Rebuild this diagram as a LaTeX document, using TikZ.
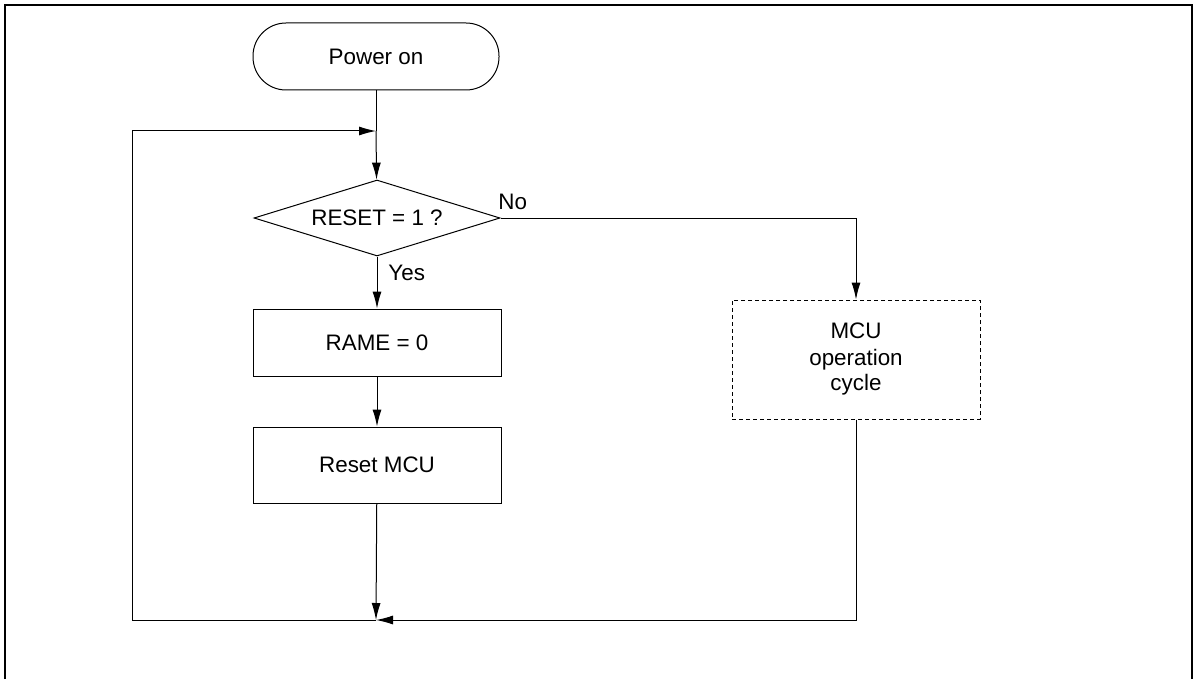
\documentclass[tikz,border=0pt]{standalone}
\usepackage{fontspec}
\setmainfont{Liberation Sans}
\usetikzlibrary{shapes.geometric,arrows.meta}

\begin{document}
\begin{tikzpicture}[x=0.5pt, y=-0.5pt,
        every node/.style={font=\fontsize{11.2}{13}\selectfont},
        block/.style={draw, line width=0.5pt, minimum width=124pt, align=center},
        arr/.style={line width=0.5pt, -{Latex[length=8.5pt, width=4.5pt]}}]
        \useasboundingbox (0, 0) rectangle (1197, 679);
        \draw[line width=1pt] (4.5, 679) -- (4.5, 5) -- (1192, 5) -- (1192, 679);

        \node[block, rounded corners=16.5pt, minimum width=123pt, minimum height=33.5pt] (power) at (376, 56.5) {Power on};
        \node[draw, line width=0.5pt, diamond, aspect=3.24, inner sep=0pt, minimum width=123pt, minimum height=38pt] (rst) at (377, 218) {RESET = 1 ?};
        \node[block, minimum height=33.5pt] (rame) at (377, 342.5) {RAME = 0};
        \node[block, minimum height=38pt] (reset) at (377, 465) {Reset MCU};
        \node[block, dash pattern=on 2pt off 1.5pt, minimum height=59.5pt] (mcu) at (856, 359.5) {MCU\\operation\\cycle};

        \node[anchor=base west, inner sep=0pt] (nolbl) at (498, 209) {No};
        \node[anchor=base west, inner sep=0pt] (yeslbl) at (388, 280) {Yes};

        \coordinate (join) at (376, 131);
        \coordinate (corner) at (132, 131);
        \coordinate (merge) at (376, 620);

        \draw[line width=0.5pt] (power) to (join);
        \draw[arr] (join) to (rst);
        \draw[arr] (rst) to (rame);
        \draw[arr] (rame) to (reset);
        \draw[arr] (reset) to (merge);
        \draw[arr] (rst.east) -| (mcu.north);
        \draw[arr] (mcu.south) |- (merge);
        \draw[arr] (merge) -| (corner) -- (join);
    \end{tikzpicture}
\end{document}
